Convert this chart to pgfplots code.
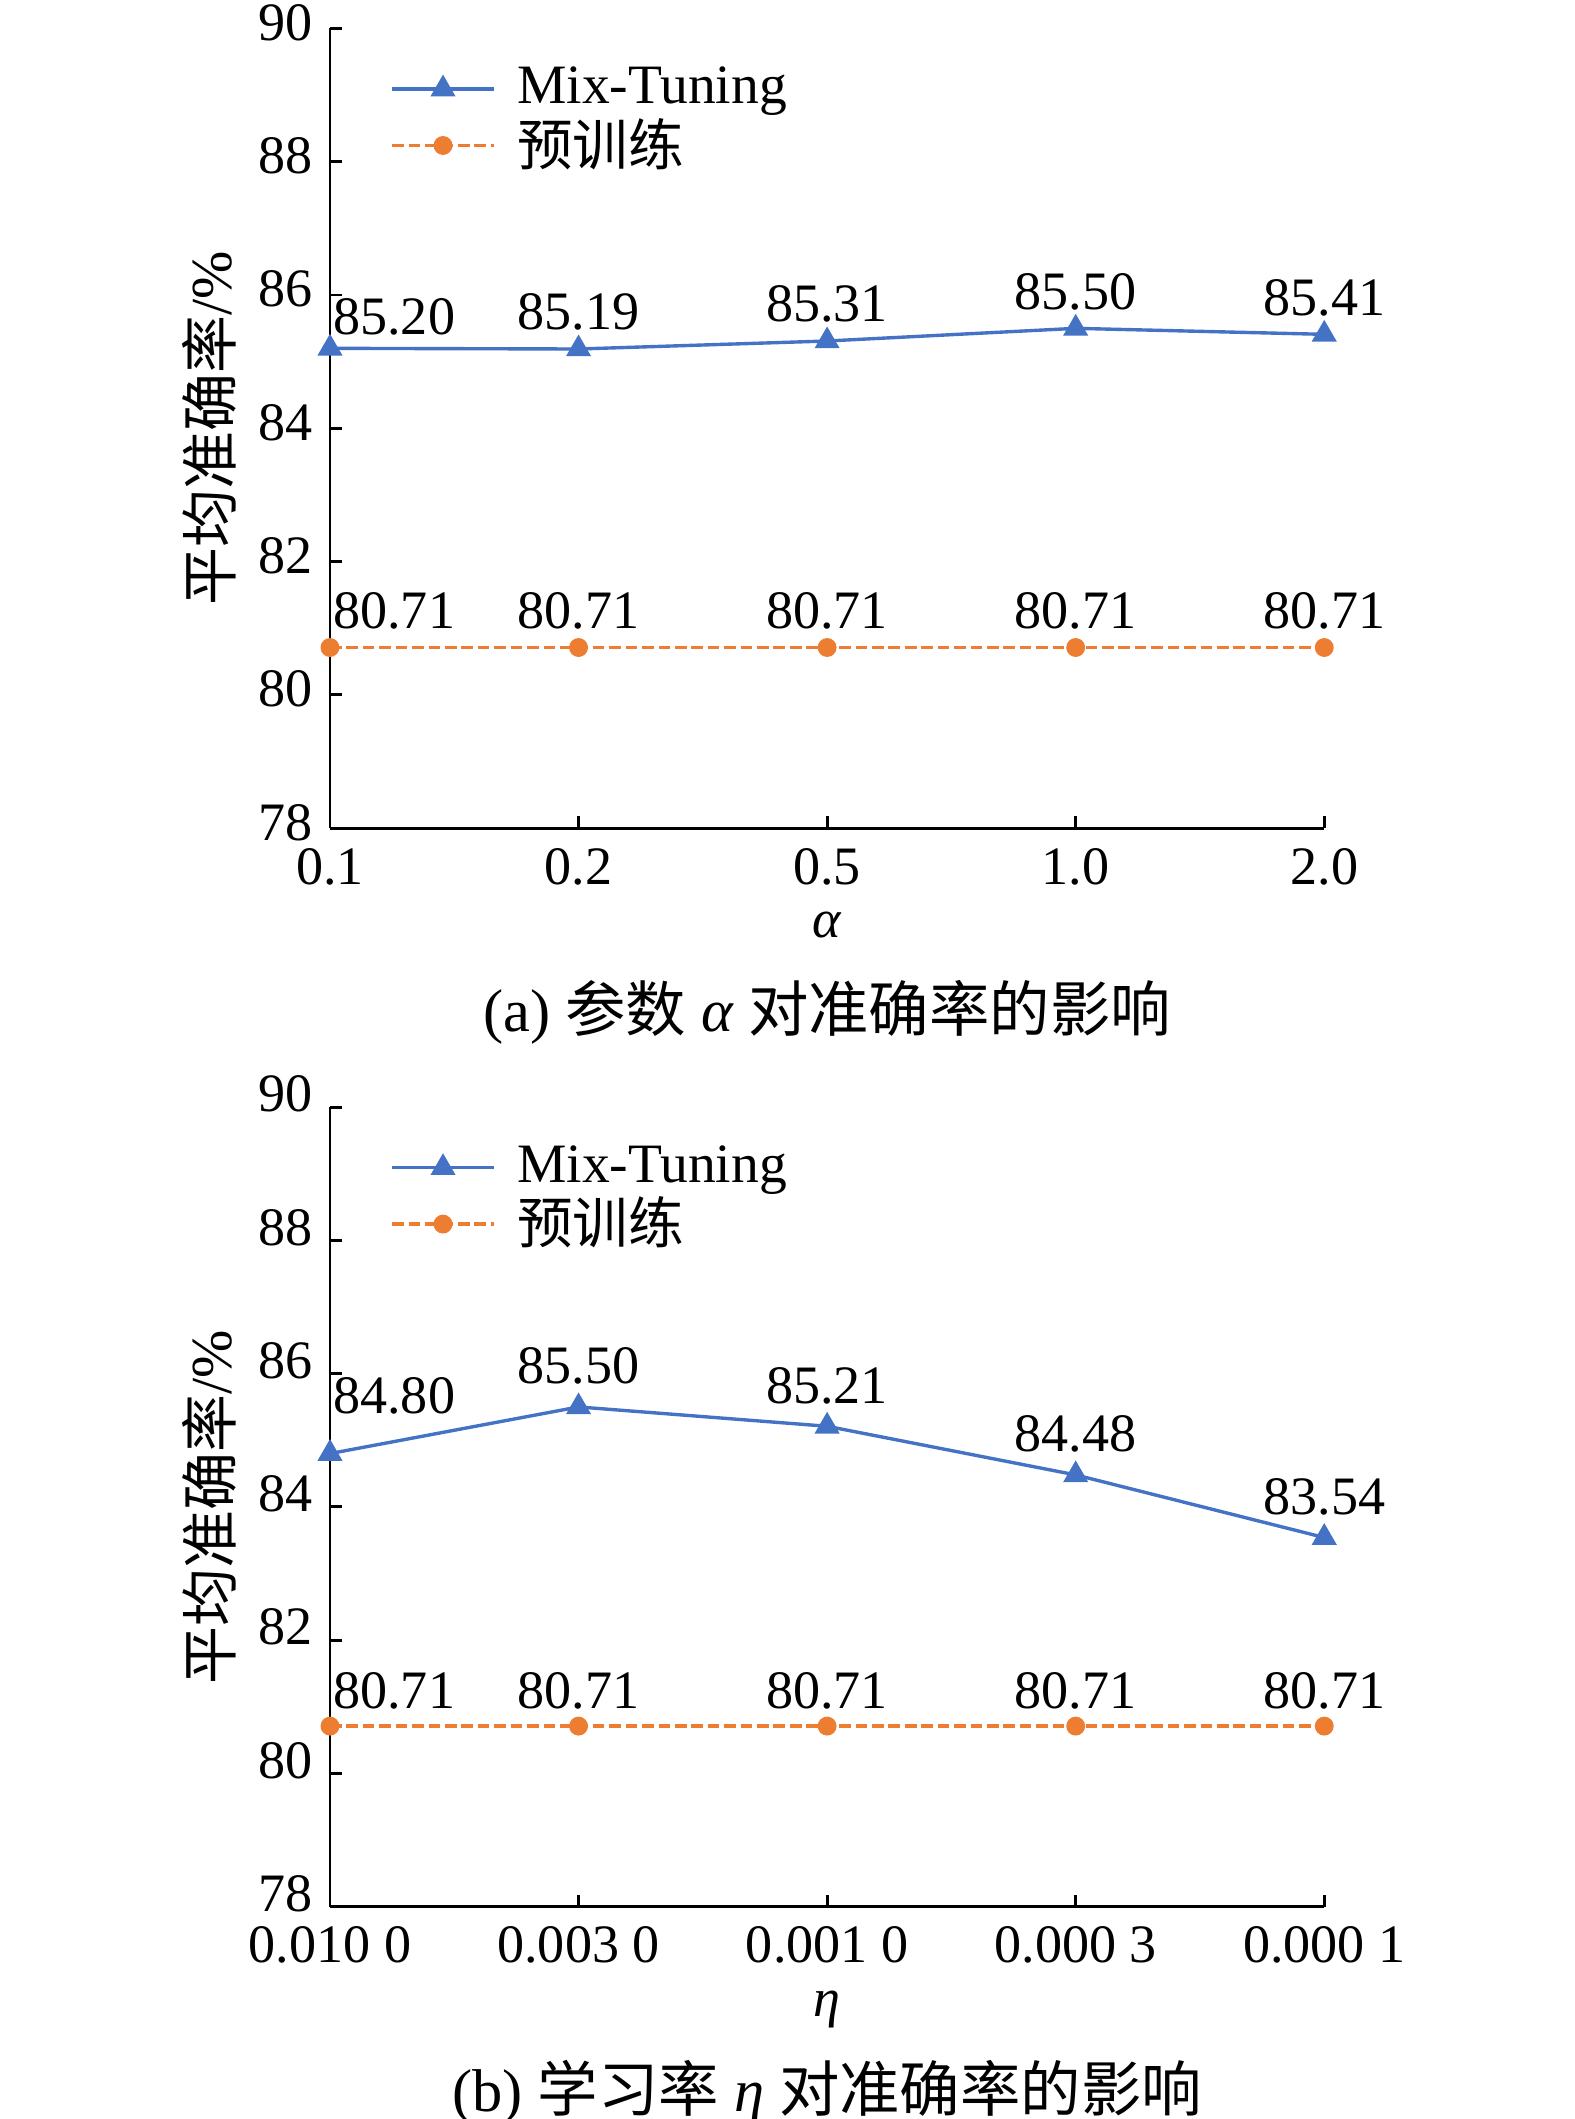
\documentclass[border=0pt]{standalone}
\usepackage{fontspec}
\setmainfont{Liberation Serif}
\newfontfamily\cjk{Noto Sans CJK SC}
\usepackage{pgfplots}
\pgfplotsset{compat=1.18}

\definecolor{mtblue}{HTML}{4472C4}
\definecolor{ptorange}{HTML}{ED7D31}

\pgfplotsset{
  accstyle/.style={
    scale only axis, width=205.8pt, height=165.5pt,
    axis lines=left, axis line style={line width=0.6pt, -},
    xmin=0, xmax=4, ymin=78, ymax=90, ytick={78,80,...,90},
    xtick={0,...,4},
    tick align=inside, major tick length=2.5pt,
    tick style={black, line width=0.6pt},
    clip=false,
    font=\fontsize{11.2}{13}\selectfont,
    /pgf/number format/assume math mode=true,
    yticklabel style={yshift=1.2pt},
    xticklabel style={yshift=-0.6pt},
    ylabel={{\cjk 平均准确率}/\%},
    ylabel style={at={(axis description cs:-0.1215,0.5)}, anchor=center,
      font=\fontsize{12}{14}\selectfont},
    legend cell align=left,
    legend style={draw=none, fill=none, inner sep=0pt, row sep=-2.5pt,
      at={(axis description cs:0.06,0.965)}, anchor=north west,
      font=\fontsize{11.5}{13}\selectfont,
      nodes={inner xsep=4.5pt}},
    legend image code/.code={\draw[mark repeat=2,mark phase=2]
      plot coordinates {(0pt,0pt) (10.5pt,0pt) (21pt,0pt)};},
  },
  mixline/.style={mtblue, line width=0.7pt, mark=triangle*, mark size=2.3pt, mark options={solid}},
  preline/.style={ptorange, line width=0.7pt, dash pattern=on 2.4pt off 1pt,
    mark=*, mark size=1.6pt, mark options={solid}},
  % value labels, drawn from the same data without line or marks
  lab/.style={draw=none, mark=none, forget plot,
    nodes near coords={\pgfmathprintnumber[fixed,fixed zerofill,precision=2]{\pgfplotspointmeta}},
    every node near coord/.append style={black, anchor=south, inner sep=0pt,
      yshift=#1, font=\fontsize{11.2}{13}\selectfont}},
  labfirst/.style={lab=#1,
    every node near coord/.append style={anchor=south west, xshift=0.5pt}},
}

\begin{document}
\begin{tikzpicture}
\begin{axis}[accstyle, name=top, at={(0,0)}, anchor=south west,
  xticklabels={0.1,0.2,0.5,1.0,2.0},
  xlabel={\itshape α},
  xlabel style={at={(axis description cs:0.5,-0.121)}, anchor=center},
]
\addplot[mixline] coordinates {(0,85.20) (1,85.19) (2,85.31) (3,85.50) (4,85.41)};
\addplot[preline] coordinates {(0,80.71) (1,80.71) (2,80.71) (3,80.71) (4,80.71)};
\legend{Mix-Tuning, {\cjk 预训练}}
\addplot[labfirst=2.6pt] coordinates {(0,85.20)};
\addplot[lab=3.6pt] coordinates {(1,85.19) (2,85.31) (3,85.50) (4,85.41)};
\addplot[labfirst=3.6pt] coordinates {(0,80.71)};
\addplot[lab=3.6pt] coordinates {(1,80.71) (2,80.71) (3,80.71) (4,80.71)};
\node[font=\fontsize{12.5}{15}\selectfont] at (axis description cs:0.5,-0.230)
  {(a) {\cjk 参数} {\itshape α} {\cjk 对准确率的影响}};
\end{axis}

\begin{axis}[accstyle, at={(0,-57.75pt)}, anchor=north west,
  yticklabel style={yshift=1.5pt},
  xticklabels={0.010 0,0.003 0,0.001 0,0.000 3,0.000 1},
  xlabel={\itshape η},
  xlabel style={at={(axis description cs:0.5,-0.128)}, anchor=center},
]
\addplot[mixline] coordinates {(0,84.80) (1,85.50) (2,85.21) (3,84.48) (4,83.54)};
\addplot[preline] coordinates {(0,80.71) (1,80.71) (2,80.71) (3,80.71) (4,80.71)};
\legend{Mix-Tuning, {\cjk 预训练}}
\addplot[labfirst=8pt] coordinates {(0,84.80)};
\addplot[lab=4.4pt] coordinates {(1,85.50) (2,85.21) (3,84.48) (4,83.54)};
\addplot[labfirst=3.3pt] coordinates {(0,80.71)};
\addplot[lab=3.3pt] coordinates {(1,80.71) (2,80.71) (3,80.71) (4,80.71)};
\node[font=\fontsize{12.5}{15}\selectfont] at (axis description cs:0.5,-0.232)
  {(b) {\cjk 学习率} {\itshape η} {\cjk 对准确率的影响}};
\end{axis}

\pgfresetboundingbox
\path[use as bounding box] (-68.3pt,-267.2pt) rectangle (257.7pt,171.4pt);
\end{tikzpicture}
\end{document}
